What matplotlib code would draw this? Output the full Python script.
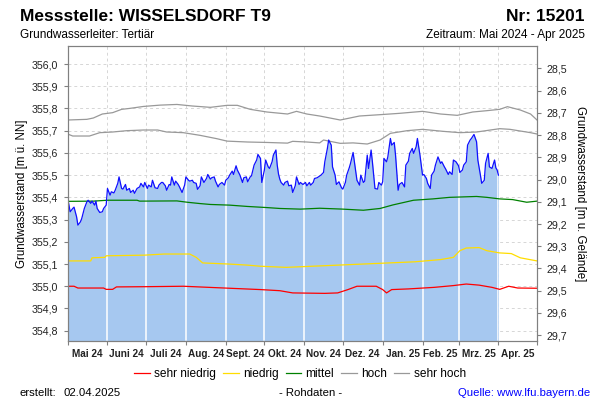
import numpy as np
import pandas as pd
import matplotlib
matplotlib.use('Agg')
import matplotlib.pyplot as plt
from matplotlib.ticker import FuncFormatter, FixedLocator

plt.rcParams['font.family'] = ['Liberation Sans', 'DejaVu Sans']

# ground level (m NN) used for the right-hand axis
gok = 384.48

month_labels = ['Mai 24', 'Juni 24', 'Juli 24', 'Aug. 24', 'Sept. 24', 'Okt. 24',
                'Nov. 24', 'Dez. 24', 'Jan. 25', 'Feb. 25', 'Mrz. 25', 'Apr. 25']

# measured level, days since 01.05.2024
blue_days = [0, 2, 4, 5, 7, 8, 10, 11, 13, 15, 16, 18, 19, 21, 22, 23, 25, 27, 28, 30,
             31, 32, 33, 34, 36, 37, 39, 40, 42, 43, 45, 46, 48, 49, 51, 52, 54, 56, 57, 59,
             60, 62, 63, 65, 66, 68, 70, 71, 73, 74, 76, 77, 79, 80, 81, 83, 84, 86, 87, 89,
             91, 92, 94, 95, 97, 98, 100, 101, 103, 104, 106, 108, 109, 111, 112, 114, 115, 117, 118, 120,
             122, 123, 125, 126, 128, 129, 131, 132, 134, 136, 137, 139, 140, 142, 143, 145, 147, 148, 150, 151,
             153, 154, 156, 157, 159, 160, 162, 163, 164, 165, 166, 168, 169, 171, 172, 174, 175, 177, 178, 180,
             181, 183, 185, 186, 188, 189, 191, 192, 194, 195, 197, 199, 200, 202, 203, 205, 206, 208, 209, 211,
             213, 214, 216, 217, 219, 220, 222, 223, 225, 227, 228, 230, 231, 233, 234, 236, 237, 239, 241, 242,
             244, 245, 246, 248, 249, 251, 252, 254, 255, 257, 258, 260, 262, 263, 265, 266, 268, 269, 271, 272,
             274, 276, 277, 279, 280, 282, 283, 285, 286, 288, 290, 291, 293, 294, 296, 297, 299, 300, 302, 304,
             305, 307, 308, 310, 311, 313, 314, 316, 318, 319, 321, 322, 324, 325, 327, 328, 330, 332, 333, 334,
             335]
blue_vals = [355.398, 355.335, 355.350, 355.356, 355.312, 355.275, 355.290, 355.305, 355.350, 355.380,
             355.387, 355.373, 355.383, 355.365, 355.383, 355.350, 355.332, 355.335, 355.350, 355.365,
             355.440, 355.425, 355.410, 355.425, 355.420, 355.432, 355.463, 355.492, 355.440, 355.437,
             355.458, 355.432, 355.440, 355.422, 355.432, 355.418, 355.440, 355.447, 355.463, 355.447,
             355.467, 355.440, 355.455, 355.447, 355.477, 355.443, 355.440, 355.455, 355.467, 355.467,
             355.452, 355.432, 355.458, 355.455, 355.492, 355.455, 355.473, 355.458, 355.447, 355.422,
             355.455, 355.492, 355.477, 355.473, 355.477, 355.467, 355.463, 355.436, 355.452, 355.492,
             355.467, 355.485, 355.503, 355.482, 355.488, 355.492, 355.473, 355.447, 355.458, 355.467,
             355.455, 355.477, 355.488, 355.500, 355.518, 355.503, 355.542, 355.523, 355.500, 355.467,
             355.488, 355.492, 355.470, 355.492, 355.497, 355.545, 355.568, 355.593, 355.575, 355.467,
             355.523, 355.568, 355.537, 355.530, 355.560, 355.590, 355.613, 355.545, 355.505, 355.482,
             355.467, 355.455, 355.467, 355.473, 355.452, 355.455, 355.422, 355.452, 355.492, 355.458,
             355.467, 355.458, 355.467, 355.452, 355.467, 355.455, 355.467, 355.485, 355.488, 355.492,
             355.500, 355.512, 355.560, 355.620, 355.658, 355.635, 355.537, 355.500, 355.458, 355.470,
             355.443, 355.437, 355.467, 355.500, 355.533, 355.553, 355.602, 355.560, 355.477, 355.455,
             355.500, 355.467, 355.473, 355.590, 355.530, 355.613, 355.560, 355.440, 355.437, 355.467,
             355.455, 355.470, 355.575, 355.560, 355.582, 355.665, 355.635, 355.647, 355.590, 355.432,
             355.458, 355.467, 355.447, 355.545, 355.563, 355.598, 355.620, 355.598, 355.627, 355.665,
             355.590, 355.500, 355.503, 355.485, 355.463, 355.440, 355.500, 355.518, 355.545, 355.582,
             355.553, 355.560, 355.537, 355.527, 355.503, 355.515, 355.503, 355.568, 355.560, 355.542,
             355.512, 355.523, 355.545, 355.560, 355.635, 355.658, 355.665, 355.683, 355.650, 355.568,
             355.500, 355.463, 355.477, 355.553, 355.598, 355.537, 355.530, 355.568, 355.533, 355.523,
             355.500]

# reference levels
sh_days = [0, 15, 20, 27, 35, 42, 48, 59, 72, 85, 97, 111, 124, 132, 142, 155, 171, 178, 186, 196,
           212, 227, 243, 258, 276, 290, 303, 315, 326, 336, 342, 352, 360, 365]
sh_vals = [355.748, 355.751, 355.757, 355.775, 355.781, 355.796, 355.800, 355.809, 355.815, 355.818,
           355.811, 355.805, 355.814, 355.814, 355.796, 355.784, 355.775, 355.787, 355.775, 355.766,
           355.748, 355.766, 355.772, 355.778, 355.787, 355.775, 355.769, 355.784, 355.790, 355.796,
           355.808, 355.793, 355.775, 355.748]

h_days = [0, 4, 17, 25, 35, 46, 59, 70, 77, 90, 103, 116, 124, 140, 155, 171, 175, 186, 196, 199,
          212, 222, 233, 243, 251, 264, 276, 292, 305, 318, 336, 344, 360, 365]
h_vals = [355.685, 355.676, 355.676, 355.691, 355.694, 355.700, 355.703, 355.703, 355.694, 355.691,
          355.679, 355.664, 355.653, 355.649, 355.647, 355.644, 355.652, 355.649, 355.645, 355.658,
          355.643, 355.645, 355.640, 355.658, 355.688, 355.700, 355.706, 355.697, 355.691, 355.694,
          355.709, 355.706, 355.691, 355.685]

m_days = [0, 20, 31, 54, 56, 85, 93, 103, 111, 126, 140, 155, 165, 181, 196, 214, 230, 243, 253, 269,
          284, 297, 318, 326, 336, 346, 357, 365]
m_vals = [355.382, 355.383, 355.387, 355.387, 355.383, 355.384, 355.378, 355.372, 355.368, 355.365,
          355.359, 355.354, 355.350, 355.347, 355.351, 355.347, 355.342, 355.350, 355.366, 355.387,
          355.393, 355.400, 355.404, 355.400, 355.393, 355.390, 355.378, 355.383]

n_days = [0, 18, 19, 29, 30, 60, 75, 95, 100, 105, 125, 140, 150, 170, 190, 210, 230, 250, 270, 290,
          300, 305, 310, 320, 326, 336, 345, 352, 365]
n_vals = [355.114, 355.114, 355.128, 355.130, 355.137, 355.140, 355.145, 355.145, 355.130, 355.105,
          355.100, 355.095, 355.090, 355.085, 355.090, 355.095, 355.100, 355.105, 355.110, 355.120,
          355.130, 355.160, 355.172, 355.174, 355.160, 355.150, 355.147, 355.128, 355.114]

sn_days = [0, 5, 8, 28, 30, 35, 38, 60, 90, 110, 130, 150, 165, 175, 200, 210, 218, 225, 240, 245,
           248, 252, 265, 285, 300, 310, 320, 330, 336, 343, 350, 365]
sn_vals = [355.000, 355.000, 354.992, 354.992, 354.986, 354.986, 354.997, 354.998, 355.000, 354.995,
           354.990, 354.985, 354.980, 354.970, 354.968, 354.970, 354.985, 355.000, 355.000, 354.985,
           354.970, 354.985, 354.988, 354.995, 355.003, 355.010, 355.005, 354.995, 354.986, 355.000,
           354.992, 354.991]

start = pd.Timestamp('2024-05-01')
edges = pd.date_range('2024-05-01', '2025-05-01', freq='MS')
edge_days = np.array((edges - start).days, dtype=float)
mid_days = (edge_days[:-1] + edge_days[1:]) / 2

ymin, ymax = 354.755, 356.081
comma = FuncFormatter(lambda v, p: ('%.1f' % v).replace('.', ','))

fig = plt.figure(figsize=(6, 4), dpi=100)
ax = fig.add_axes([67.6 / 600, 1 - 340.7 / 400, 469.4 / 600, 294.7 / 400])

ax.set_xlim(0, 365)
ax.set_ylim(ymin, ymax)

poly = ax.fill_between(blue_days, blue_vals, ymin, color='#a6c8f0', lw=0, zorder=1)
for d in edge_days[1:-1]:
    ln = ax.axvline(d, color='white', lw=1.1, zorder=1.5)
    ln.set_clip_path(poly.get_paths()[0], poly.get_transform())

ax.plot(sh_days, sh_vals, color='#999999', lw=0.9, zorder=2, label='sehr hoch')
ax.plot(h_days, h_vals, color='#999999', lw=0.9, zorder=2, label='hoch')
ax.plot(m_days, m_vals, color='#008000', lw=0.9, zorder=2, label='mittel')
ax.plot(n_days, n_vals, color='#ffdd00', lw=0.9, zorder=2, label='niedrig')
ax.plot(sn_days, sn_vals, color='#ff0000', lw=0.9, zorder=2, label='sehr niedrig')
ax.plot(blue_days, blue_vals, color='#1010ff', lw=0.9, zorder=3)

ax.set_axisbelow(True)
ax.grid(True, ls=(0, (3, 3)), color='#d6d6d6', lw=0.7)

ax.xaxis.set_major_locator(FixedLocator(edge_days))
ax.xaxis.set_major_formatter(FuncFormatter(lambda v, p: ''))
ax.set_xticks(mid_days, month_labels, minor=True)
ax.tick_params(axis='x', which='major', length=3, color='#808080')
ax.tick_params(axis='x', which='minor', length=0, pad=6, labelsize=7.2)
for t in ax.get_xticklabels(minor=True):
    t.set_fontweight('bold')
    t.set_color('#222222')

ax.set_yticks(np.round(np.arange(354.8, 356.05, 0.1), 1))
ax.yaxis.set_major_formatter(comma)
ax.tick_params(axis='y', length=3, pad=4, labelsize=7.7, color='#808080', labelcolor='#222222')
ax.set_ylabel('Grundwasserstand [m ü. NN]', fontsize=8.3)
ax.yaxis.set_label_coords(-0.085, 0.5)

for s in ax.spines.values():
    s.set_color('#808080')

ax2 = ax.twinx()
ax2.set_ylim(gok - ymin, gok - ymax)
ax2.set_yticks(np.round(np.arange(28.5, 29.75, 0.1), 1))
ax2.yaxis.set_major_formatter(comma)
ax2.tick_params(axis='y', length=3, pad=4, labelsize=7.7, color='#808080', labelcolor='#222222')
ax2.set_ylabel('Grundwasserstand [m u. Gelände]', fontsize=8.3, rotation=270, va='bottom')
ax2.yaxis.set_label_coords(1.078, 0.5)
for s in ax2.spines.values():
    s.set_color('#808080')

handles, labels = ax.get_legend_handles_labels()
order = [4, 3, 2, 1, 0]
fig.legend([handles[i] for i in order], [labels[i] for i in order],
           loc='center', bbox_to_anchor=(0.5, 1 - 374 / 400), ncol=5, frameon=False,
           fontsize=8.6, handlelength=1.3, handletextpad=0.35, columnspacing=0.6)

fig.text(20 / 600, 1 - 21 / 400, 'Messstelle: WISSELSDORF T9', fontsize=12.5,
         fontweight='bold', va='baseline')
fig.text(585 / 600, 1 - 21 / 400, 'Nr: 15201', fontsize=12.5, fontweight='bold',
         va='baseline', ha='right')
fig.text(20 / 600, 1 - 38 / 400, 'Grundwasserleiter: Tertiär', fontsize=8.5, va='baseline')
fig.text(585 / 600, 1 - 38 / 400, 'Zeitraum: Mai 2024 - Apr 2025', fontsize=8.5,
         va='baseline', ha='right')

fig.text(20 / 600, 1 - 393 / 400, 'erstellt:', fontsize=8.2, va='center')
fig.text(63 / 600, 1 - 393 / 400, '02.04.2025', fontsize=8.2, va='center')
fig.text(311 / 600, 1 - 393 / 400, '- Rohdaten -', fontsize=8.2, va='center', ha='center')
fig.text(590 / 600, 1 - 393 / 400, 'Quelle: www.lfu.bayern.de', fontsize=8.2,
         va='center', ha='right', color='#0000ff')

fig.savefig('out.png', dpi=100)
